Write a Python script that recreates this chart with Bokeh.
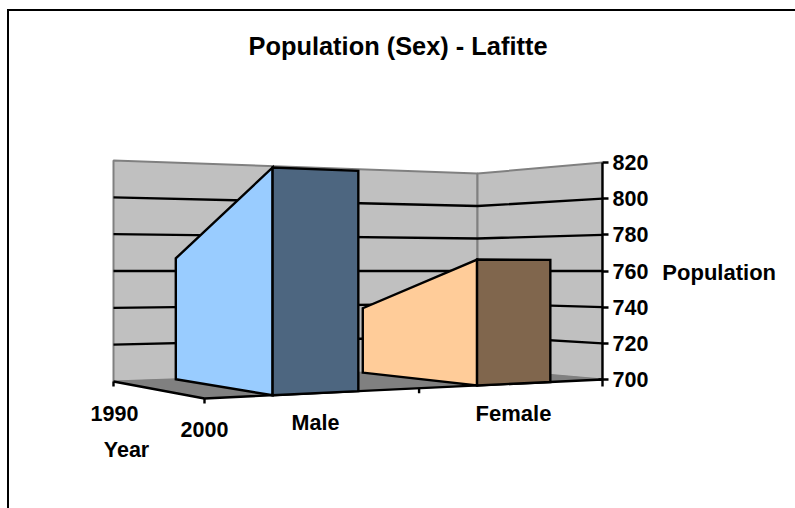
from bokeh.plotting import figure
from bokeh.models import LinearAxis, FixedTicker, Range1d, Label
from bokeh.embed import file_html
from bokeh.resources import INLINE

# ---- data ----
title_text = "Population (Sex) - Lafitte"
categories = ["Male", "Female"]
years = ["1990", "2000"]
male = [767, 810]
female = [738, 766]
value_ticks = [700, 720, 740, 760, 780, 800, 820]
value_axis_title = "Population"
depth_axis_title = "Year"

# ---- styles ----
FONT = "Liberation Sans"
WALL, EDGE, FLOOR = "#C0C0C0", "#808080", "#808080"
MALE_SIDE, MALE_FRONT = "#99CCFF", "#4D6680"
FEMALE_SIDE, FEMALE_FRONT = "#FFCC99", "#80664D"
LW = 2.4

# ---- layout: page pixels of the frame and of the value axis ----
W, H = 795, 508
LEFT, RIGHT = 0, 602
TOP = 36
Y0_PX, Y1_PX = 379.0, 162.0   # page y of value 700 and 820
PX_PER = (Y0_PX - Y1_PX) / (value_ticks[-1] - value_ticks[0])


def val(ypx):
    """page y -> value on the axis' scale"""
    return value_ticks[0] + (Y0_PX - ypx) / PX_PER


p = figure(width=W, height=H, output_backend="svg", toolbar_location=None,
           x_axis_type=None, y_axis_type=None,
           x_range=Range1d(LEFT, RIGHT),
           y_range=Range1d(val(H), val(TOP)),
           min_border_left=0, min_border_top=TOP, min_border_bottom=0,
           min_border_right=W - (RIGHT - LEFT), outline_line_color=None,
           border_fill_color=None, background_fill_color=None)

# chart-area border: it runs off the page on the right and at the bottom
p.styles = {
    "background": "linear-gradient(black,black) 7px 9px/788px 2px no-repeat,"
                  "linear-gradient(black,black) 7px 9px/2px 499px no-repeat"
}

# ---- 3-D projection of the Excel chart box ----
# floor corners on the page: (u, w) u along categories, w along years (0 back, 1 front)
A, D, B, C = (113, 381), (477, 368), (204, 398), (602, 379)
HORIZON = 270.5
PERSP = 1.17


def floor_xy(u, w):
    t = PERSP * u / ((1 - u) + PERSP * u)
    bx = A[0] + (D[0] - A[0]) * t
    by = A[1] + (D[1] - A[1]) * t
    fx = B[0] + (C[0] - B[0]) * t
    fy = B[1] + (C[1] - B[1]) * t
    return bx + (fx - bx) * w, by + (fy - by) * w


def proj(u, w, v):
    x, y = floor_xy(u, w)
    return x, val(HORIZON + (y - HORIZON) * (760 - v) / 60)


def poly(pts):
    xs, ys = zip(*[proj(*q) for q in pts])
    return list(xs), list(ys)


vmin, vmax = value_ticks[0], value_ticks[-1]

# walls
for a, b in (((0, 0), (1, 0)), ((1, 0), (1, 1))):
    xs, ys = poly([(*a, vmin), (*b, vmin), (*b, vmax), (*a, vmax)])
    p.patch(xs, ys, fill_color=WALL, line_color=EDGE, line_width=2)

# grid lines on the walls
for t in value_ticks[1:-1]:
    xs, ys = poly([(0, 0, t), (1, 0, t), (1, 1, t)])
    p.line(xs, ys, line_color="black", line_width=LW)

# floor
xs, ys = poly([(0, 0, vmin), (1, 0, vmin), (1, 1, vmin), (0, 1, vmin)])
p.patch(xs, ys, fill_color=FLOOR, line_color=FLOOR, line_width=1)
xs, ys = poly([(0, 0, vmin), (0, 1, vmin), (1, 1, vmin)])
p.line(xs, ys, line_color="black", line_width=LW)

# ticks under the floor edges
for u, w in ((0, 0), (0, 1), (0.5, 1)):
    x, y = proj(u, w, vmin)
    p.segment(x, y, x, y - 5 / PX_PER, line_color="black", line_width=LW)

# small inner tick of the value axis at its base
p.segment(RIGHT - 4, vmin, RIGHT, vmin, line_color="black", line_width=LW)

# the two solids
BAR_W = 0.2
for i, (vals, side, front) in enumerate(((male, MALE_SIDE, MALE_FRONT),
                                         (female, FEMALE_SIDE, FEMALE_FRONT))):
    u0 = i * 0.5 + 0.15
    u1 = u0 + BAR_W
    xs, ys = poly([(u0, 0, vmin), (u0, 1, vmin), (u0, 1, vals[1]), (u0, 0, vals[0])])
    p.patch(xs, ys, fill_color=side, line_color="black", line_width=LW, line_join="miter")
    xs, ys = poly([(u0, 1, vmin), (u1, 1, vmin), (u1, 1, vals[1]), (u0, 1, vals[1])])
    p.patch(xs, ys, fill_color=front, line_color="black", line_width=LW, line_join="miter")

# value axis
axis = LinearAxis(ticker=FixedTicker(ticks=value_ticks),
                  bounds=(val(386), vmax),
                  axis_line_color="black", axis_line_width=LW,
                  major_tick_line_color="black", major_tick_line_width=LW,
                  major_tick_in=0, major_tick_out=6, minor_tick_line_color=None,
                  major_label_standoff=4,
                  major_label_text_font=FONT, major_label_text_font_style="bold",
                  major_label_text_font_size="21.5px", major_label_text_color="black",
                  axis_label=value_axis_title, axis_label_orientation="horizontal",
                  axis_label_standoff=11,
                  axis_label_text_font=FONT, axis_label_text_font_style="bold",
                  axis_label_text_font_size="22px", axis_label_text_color="black")
p.add_layout(axis, "right")


def text(x, ypx, s, size, align="center"):
    p.add_layout(Label(x=x, y=val(ypx), text=s, text_font=FONT, text_font_style="bold",
                       text_font_size=size, text_color="black", text_align=align,
                       text_baseline="alphabetic"))


text(397.5, 45.5, title_text, "25.4px")
text(114, 412.5, years[0], "21.5px")
text(204, 428.5, years[1], "21.5px")
text(315, 422.5, categories[0], "21.5px")
text(513, 412.5, categories[1], "22px")
text(126, 449.5, depth_axis_title, "21.5px")

open("out.html", "w").write(file_html(p, INLINE))
